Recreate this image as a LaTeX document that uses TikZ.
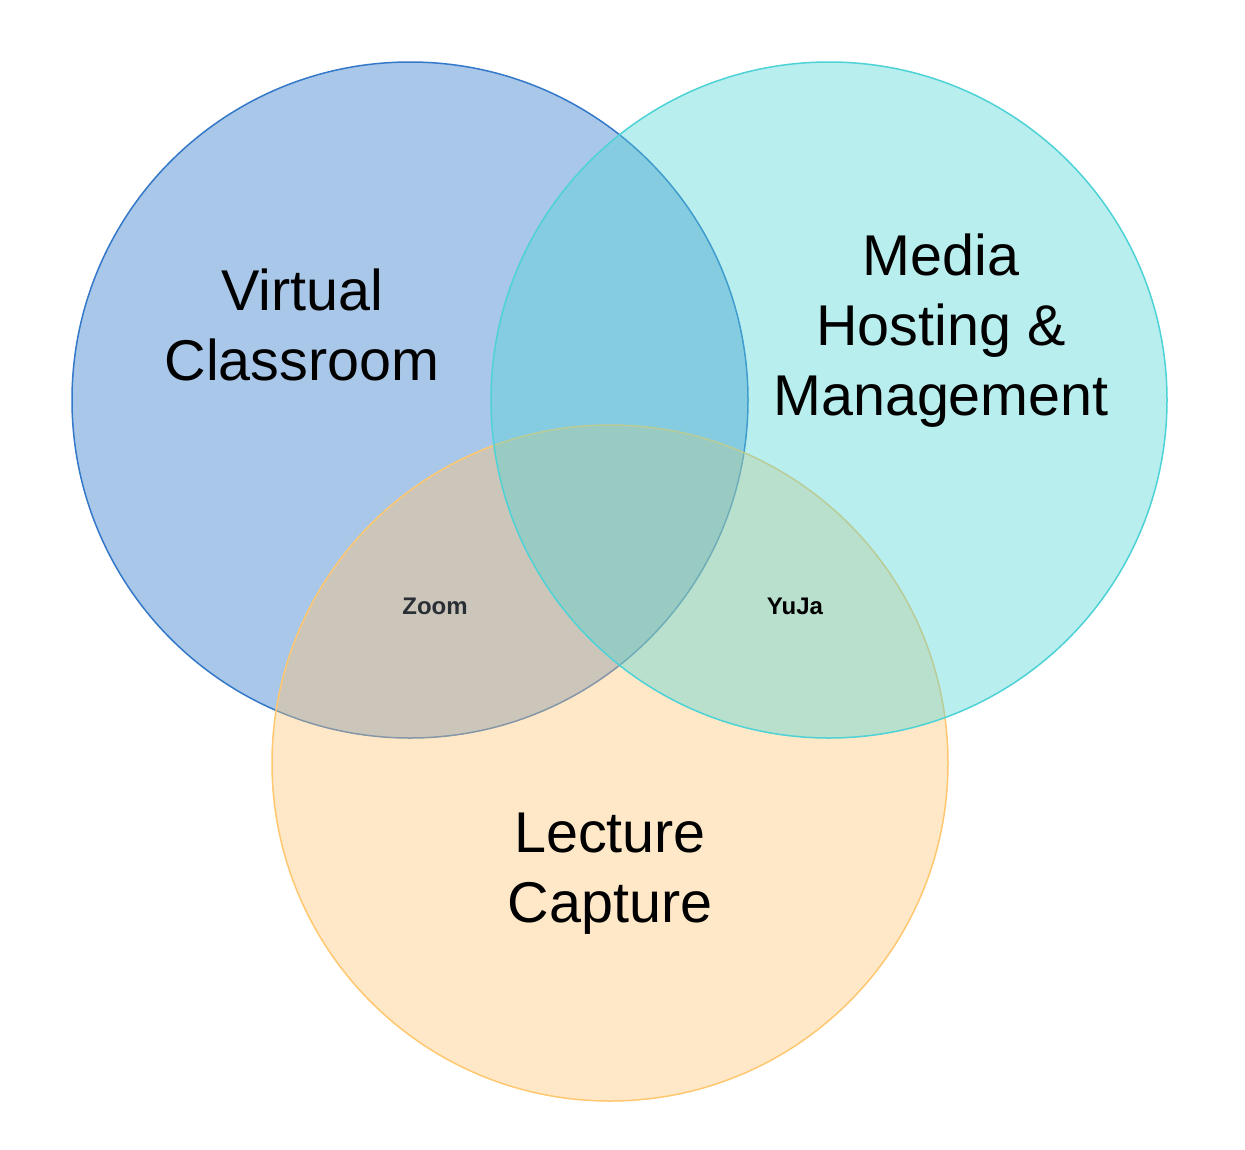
\documentclass[tikz,border=0pt]{standalone}
\usepackage{fontspec}
\setmainfont{Liberation Sans}
\definecolor{vcblue}{RGB}{40,115,197}
\definecolor{vcline}{RGB}{52,120,201}
\definecolor{mhcyan}{RGB}{80,212,212}
\definecolor{mhline}{RGB}{77,210,214}
\definecolor{lcorange}{RGB}{255,197,117}
\definecolor{lcline}{RGB}{255,200,112}
\definecolor{zoomgray}{RGB}{42,46,53}
\begin{document}
\begin{tikzpicture}[x=1pt,y=-1pt,
  ring/.style={circle, inner sep=0pt, minimum size=676pt, line width=1.5pt, fill opacity=0.4},
  bigtext/.style={align=center, inner sep=0pt, font=\fontsize{57.5}{70}\selectfont},
  smalltext/.style={inner sep=0pt, font=\fontsize{24}{28}\selectfont\bfseries}]
\useasboundingbox (0,0) rectangle (1245,1149);
\node[ring, draw=vcline, fill=vcblue] (vc) at (410,400) {};
\node[ring, draw=lcline, fill=lcorange] (lc) at (610,763) {};
\node[ring, draw=mhline, fill=mhcyan] (mh) at (829,400) {};
\node[bigtext] (vct) at (302,325) {Virtual\\Classroom};
\node[bigtext] (mht) at (941,331) {Media\\Hosting \&\\Management};
\node[bigtext] (lct) at (610,874) {Lecture\\Capture};
\node[smalltext, text=zoomgray] (zm) at (435,606) {Zoom};
\node[smalltext] (yj) at (795,606) {YuJa};
\end{tikzpicture}
\end{document}
